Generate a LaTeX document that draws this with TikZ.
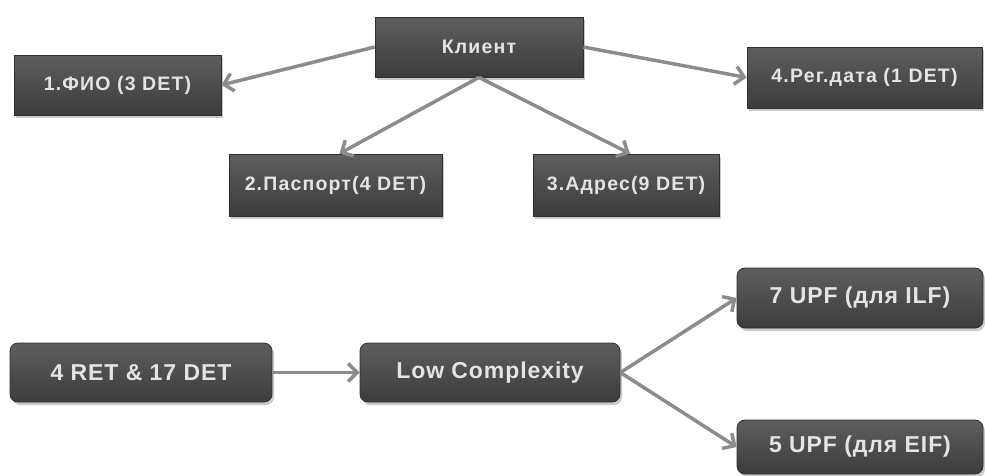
\documentclass[tikz,border=0pt]{standalone}
\usepackage{fontspec}
\setmainfont{Liberation Sans}
\usetikzlibrary{arrows.meta,shadows,calc}
\definecolor{boxtop}{HTML}{5E5E5E}
\definecolor{boxbot}{HTML}{3C3C3C}
\definecolor{boxline}{HTML}{2E2E2E}
\definecolor{txt}{HTML}{E4E4E4}
\definecolor{conn}{HTML}{8C8C8C}
\tikzset{
  topbox/.style={rectangle, draw=boxline, line width=0.8pt, top color=boxtop, bottom color=boxbot,
    text=txt, font=\fontsize{19.5}{22}\selectfont\bfseries\addfontfeatures{LetterSpace=6}, inner sep=0pt,
    drop shadow={shadow xshift=2pt, shadow yshift=-3pt, fill=black!35, opacity=0.6}},
  botbox/.style={topbox, rounded corners=8pt, font=\fontsize{23}{26}\selectfont\bfseries\addfontfeatures{LetterSpace=4}},
  conn/.style={draw=conn, line width=3.5pt, -{Straight Barb[length=9pt,width=18pt,line width=3.5pt]}}
}
\begin{document}
\begin{tikzpicture}[x=1pt,y=-1pt]
\useasboundingbox (0,0) rectangle (985,475);
\node[topbox, minimum width=208pt, minimum height=60pt] (kl) at (479,47) {Клиент};
\node[topbox, minimum width=207pt, minimum height=60pt] (fio) at (117.5,85) {1.ФИО (3 DET)};
\node[topbox, minimum width=213pt, minimum height=62pt] (pas) at (335.5,185) {2.Паспорт(4 DET)};
\node[topbox, minimum width=186pt, minimum height=62pt] (adr) at (626,185) {3.Адрес(9 DET)};
\node[topbox, minimum width=235pt, minimum height=61pt] (reg) at (864.5,77.5) {4.Рег.дата (1 DET)};
\node[botbox, minimum width=262pt, minimum height=59pt] (ret) at (141,372.5) {4 RET \& 17 DET};
\node[botbox, minimum width=260pt, minimum height=59pt] (low) at (490,372.5) {Low Complexity};
\node[botbox, minimum width=246pt, minimum height=60pt] (ilf) at (860,298) {7 UPF (для ILF)};
\node[botbox, minimum width=246pt, minimum height=54pt] (eif) at (860,447) {5 UPF (для EIF)};
\draw[conn] (kl.west) -- (fio.east);
\draw[conn] (kl.east) -- (reg.west);
\draw[conn] (kl.south) -- ($(pas.north)+(4,0)$);
\draw[conn] (kl.south) -- ($(adr.north)+(4,0)$);
\draw[conn] (ret.east) -- (low.west);
\draw[conn] (low.east) -- (ilf.west);
\draw[conn] (low.east) -- (eif.west);
\end{tikzpicture}
\end{document}
